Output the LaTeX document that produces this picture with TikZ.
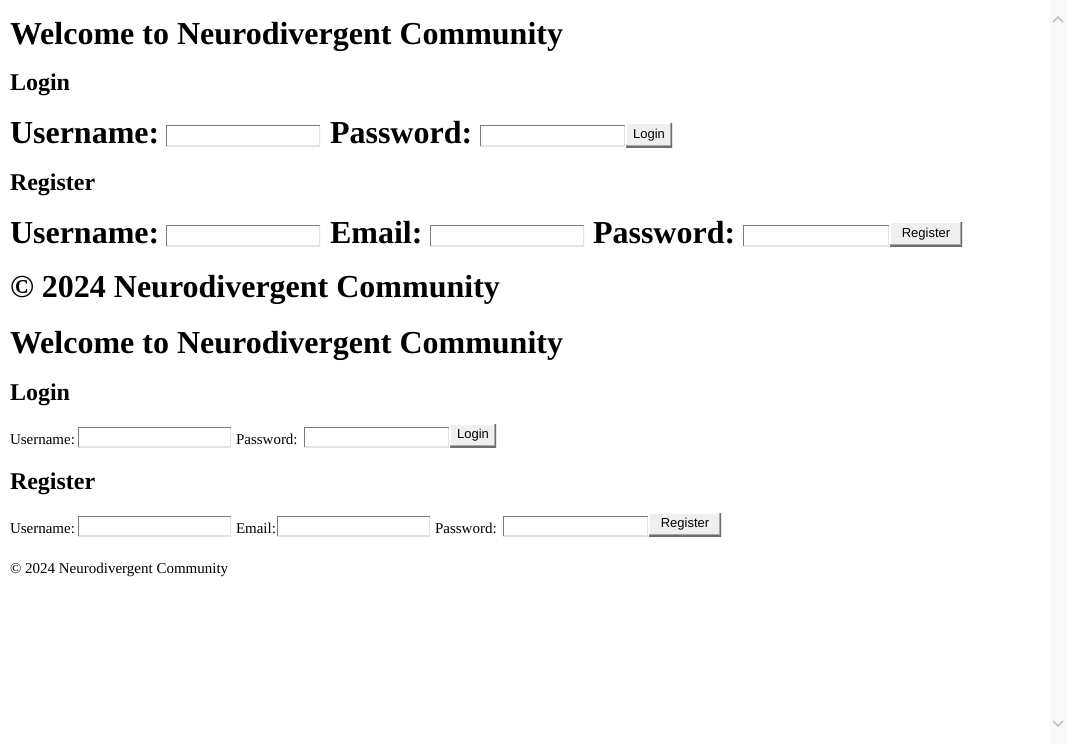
\documentclass[tikz,border=0pt]{standalone}
\usepackage{fontspec}
\setmainfont{Liberation Serif}
\newfontfamily\arialf{Liberation Sans}
\definecolor{fdark}{HTML}{7A7A7A}
\definecolor{flight}{HTML}{E3E3E3}
\definecolor{bfill}{HTML}{EFEFEF}
\definecolor{bdark}{HTML}{6E6E6E}
\definecolor{bmid}{HTML}{A8A8A8}
\definecolor{sbar}{HTML}{F8F8F8}
\definecolor{sbarrow}{HTML}{C2C2C2}
\newcommand\hone{\fontsize{32}{37}\selectfont\bfseries}
\newcommand\htwo{\fontsize{24}{28}\selectfont\bfseries}
\newcommand\bodyf{\fontsize{15}{18}\selectfont}
\newcommand\btnf{\arialf\fontsize{13}{15}\selectfont}
\tikzset{
  txt/.style={anchor=base west, inner sep=0pt, outer sep=0pt},
  fieldbox/.style={anchor=north west, inner sep=0pt, outer sep=0pt, fill=white,
    path picture={
      \draw[line width=2pt, flight] (path picture bounding box.south west) -- (path picture bounding box.south east) -- (path picture bounding box.north east);
      \draw[line width=2.6pt, fdark] (path picture bounding box.south west) -- (path picture bounding box.north west) -- (path picture bounding box.north east);
    }},
  btnbox/.style={anchor=north west, inner sep=0pt, outer sep=0pt, fill=bfill, font=\btnf,
    path picture={
      \draw[line width=2pt, white] (path picture bounding box.south west) -- (path picture bounding box.north west) -- (path picture bounding box.north east);
      \draw[line width=4pt, bmid] (path picture bounding box.south west) -- (path picture bounding box.south east) -- (path picture bounding box.north east);
      \draw[line width=2pt, bdark] (path picture bounding box.south west) -- (path picture bounding box.south east) -- (path picture bounding box.north east);
    }}
}
\begin{document}
\begin{tikzpicture}[x=1pt,y=-1pt]
\useasboundingbox (0,0) rectangle (1067,744);
\fill[white] (0,0) rectangle (1067,744);
% scrollbar
\fill[sbar] (1050,0) rectangle (1067,744);
\draw[sbarrow, line width=1.6pt] (1053,22) -- (1058,17) -- (1063,22);
\draw[sbarrow, line width=1.6pt] (1053,721) -- (1058,726) -- (1063,721);

% ===== Section 1 (large) =====
\node[txt, font=\hone] (t1) at (10,44) {Welcome to Neurodivergent Community};
\node[txt, font=\htwo] (l1) at (10,90) {Login};
\node[txt, font=\hone] (u1) at (10,143) {Username:};
\node[fieldbox, minimum width=154pt, minimum height=21pt] (uf1) at (166,125) {};
\node[txt, font=\hone] (p1) at (330,143) {Password:};
\node[fieldbox, minimum width=145pt, minimum height=21pt] (pf1) at (480,125) {};
\node[btnbox, minimum width=46pt, minimum height=24pt] (lb1) at (626,123) {Login};
\node[txt, font=\htwo] (r1) at (10,190) {Register};
\node[txt, font=\hone] (ru1) at (10,243) {Username:};
\node[fieldbox, minimum width=154pt, minimum height=21pt] (ruf1) at (166,225) {};
\node[txt, font=\hone] (re1) at (330,243) {Email:};
\node[fieldbox, minimum width=154pt, minimum height=21pt] (ref1) at (430,225) {};
\node[txt, font=\hone] (rp1) at (593,243) {Password:};
\node[fieldbox, minimum width=146pt, minimum height=21pt] (rpf1) at (743,225) {};
\node[btnbox, minimum width=72pt, minimum height=24pt] (rb1) at (890,222) {Register};
\node[txt, font=\hone] (c1) at (10,297) {© 2024 Neurodivergent Community};

% ===== Section 2 (normal) =====
\node[txt, font=\hone] (t2) at (10,353) {Welcome to Neurodivergent Community};
\node[txt, font=\htwo] (l2) at (10,400) {Login};
\node[txt, font=\bodyf] (u2) at (10,444) {Username:};
\node[fieldbox, minimum width=153pt, minimum height=20pt] (uf2) at (78,427) {};
\node[txt, font=\bodyf] (p2) at (236,444) {Password:};
\node[fieldbox, minimum width=145pt, minimum height=20pt] (pf2) at (304,427) {};
\node[btnbox, minimum width=46pt, minimum height=23pt] (lb2) at (450,424) {Login};
\node[txt, font=\htwo] (r2) at (10,489) {Register};
\node[txt, font=\bodyf] (ru2) at (10,533) {Username:};
\node[fieldbox, minimum width=153pt, minimum height=20pt] (ruf2) at (78,516) {};
\node[txt, font=\bodyf] (re2) at (236,533) {Email:};
\node[fieldbox, minimum width=153pt, minimum height=20pt] (ref2) at (277,516) {};
\node[txt, font=\bodyf] (rp2) at (435,533) {Password:};
\node[fieldbox, minimum width=145pt, minimum height=20pt] (rpf2) at (503,516) {};
\node[btnbox, minimum width=72pt, minimum height=23pt] (rb2) at (649,513) {Register};
\node[txt, font=\bodyf] (c2) at (10,573) {© 2024 Neurodivergent Community};
\end{tikzpicture}
\end{document}
